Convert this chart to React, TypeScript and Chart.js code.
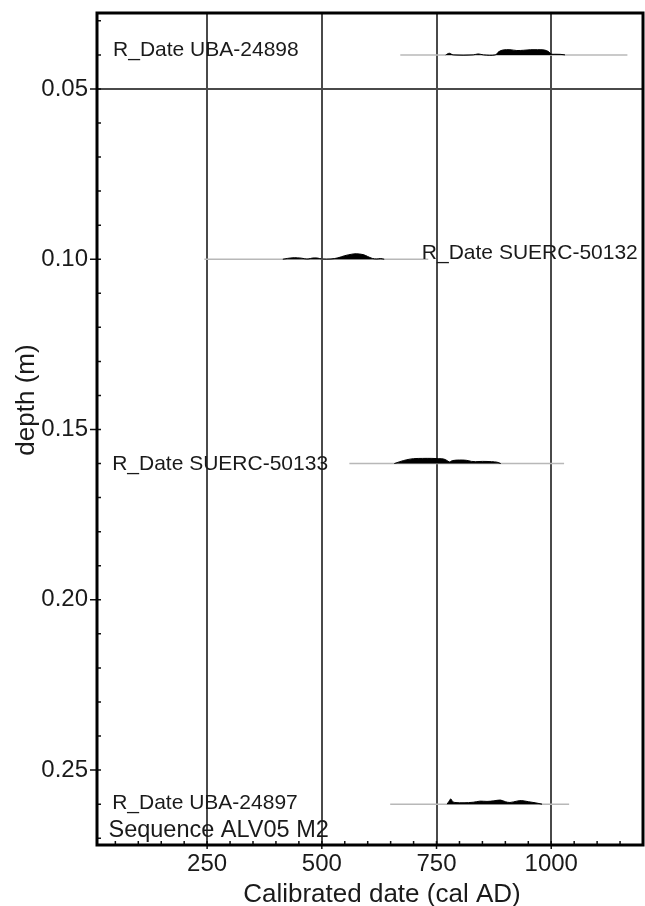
import { useEffect, useRef } from "react";
import { Chart, registerables } from "chart.js";

Chart.register(...registerables);

// ---- axes ----
const DATE_TICKS = [250, 500, 750, 1000];
const DATE_MINOR_STEP = 50;
const DATE_MIN = 10;
const DATE_MAX = 1200;
const DEPTH_TICKS = [0.05, 0.1, 0.15, 0.2, 0.25];
const DEPTH_MINOR_STEP = 0.01;
const DEPTH_MIN = 0.0277;
const DEPTH_MAX = 0.272;
const DEPTH_GRID = [0.05];

// ---- samples ----
const SAMPLE_NAMES = ["R_Date UBA-24898", "R_Date SUERC-50132", "R_Date SUERC-50133", "R_Date UBA-24897"];
const SAMPLE_DEPTHS = [0.04, 0.1, 0.16, 0.26];
const RANGE_FROM = [671, 244, 560, 649];
const RANGE_TO = [1166, 732, 1028, 1039];

// probability distributions (relative density)
const PDF1_DATES = [770, 778, 786, 830, 841, 852, 878, 886, 895, 910, 925, 940, 955, 970, 985, 994, 1000, 1008, 1020, 1030];
const PDF1_DENS = [0, 0.3, 0, 0, 0.18, 0, 0, 0.6, 0.9, 0.95, 0.8, 0.85, 0.95, 0.95, 0.9, 0.6, 0.15, 0.12, 0.1, 0];
const PDF2_DATES = [415, 425, 440, 455, 462, 470, 480, 490, 500, 520, 535, 550, 565, 575, 590, 600, 610, 620, 628, 636];
const PDF2_DENS = [0, 0.15, 0.28, 0.2, 0.1, 0.05, 0.22, 0.22, 0.05, 0.05, 0.25, 0.65, 0.92, 1.0, 0.85, 0.5, 0.15, 0.05, 0.12, 0];
const PDF3_DATES = [658, 670, 685, 700, 720, 740, 755, 765, 772, 778, 785, 800, 815, 826, 835, 850, 870, 882, 890];
const PDF3_DENS = [0, 0.35, 0.7, 0.9, 0.95, 0.95, 0.9, 0.85, 0.6, 0.3, 0.55, 0.65, 0.6, 0.4, 0.35, 0.4, 0.35, 0.25, 0];
const PDF4_DATES = [773, 777, 781, 785, 790, 810, 830, 845, 860, 875, 889, 900, 910, 925, 935, 950, 965, 980];
const PDF4_DENS = [0, 0.5, 0.95, 0.5, 0.3, 0.25, 0.35, 0.55, 0.5, 0.6, 0.75, 0.45, 0.3, 0.55, 0.65, 0.45, 0.25, 0];

const PDF_DATES = [PDF1_DATES, PDF2_DATES, PDF3_DATES, PDF4_DATES];
const PDF_DENS = [PDF1_DENS, PDF2_DENS, PDF3_DENS, PDF4_DENS];
const PDF_PEAK_DEPTH = 0.0016; // height of density 1.0 in depth units

const SEQUENCE_NAME = "Sequence ALV05 M2";
const X_TITLE = "Calibrated date (cal AD)";
const Y_TITLE = "depth (m)";

// ---- label placement (layout only) ----
const LABEL_X = [45, 718, 43, 43];
const LABEL_DY = [1, 0, 6, 5];
const SEQ_LABEL_X = 35;
const X_TITLE_AT = 631;

const FONT = '"Liberation Sans", Arial, Helvetica, sans-serif';
const TEXT = "#1a1a1a";
const GRID = "#4a4a4a";

export default function App() {
  const ref = useRef<HTMLCanvasElement | null>(null);

  useEffect(() => {
    document.body.style.margin = "0";
    document.body.style.overflow = "hidden";
    const canvas = ref.current;
    if (!canvas) return;

    const datasets: any[] = [];
    SAMPLE_DEPTHS.forEach((d, i) => {
      datasets.push({
        data: PDF_DATES[i].map((x, k) => ({ x, y: d - PDF_DENS[i][k] * PDF_PEAK_DEPTH })),
        borderColor: "#000",
        borderWidth: 1,
        backgroundColor: "#000",
        fill: { value: d },
        pointRadius: 0,
        tension: 0.35,
        order: 0,
      });
      datasets.push({
        data: [
          { x: RANGE_FROM[i], y: d },
          { x: RANGE_TO[i], y: d },
        ],
        borderColor: "#b8b8b8",
        borderWidth: 1.5,
        pointRadius: 0,
        fill: false,
        order: 1,
      });
    });

    const overlay = {
      id: "overlay",
      afterDraw(chart: any) {
        const ctx = chart.ctx as CanvasRenderingContext2D;
        const { left, right, top, bottom } = chart.chartArea;
        const xs = chart.scales.x;
        const ys = chart.scales.y;
        ctx.save();
        // minor ticks
        ctx.strokeStyle = "#111";
        ctx.lineWidth = 1.5;
        ctx.beginPath();
        for (let v = 50; v < DATE_MAX; v += DATE_MINOR_STEP) {
          const px = xs.getPixelForValue(v);
          ctx.moveTo(px, bottom);
          ctx.lineTo(px, bottom - 4);
        }
        for (let k = 3; k * DEPTH_MINOR_STEP < DEPTH_MAX; k++) {
          const py = ys.getPixelForValue(k * DEPTH_MINOR_STEP);
          ctx.moveTo(left, py);
          ctx.lineTo(left + 4, py);
        }
        DEPTH_TICKS.forEach((v) => {
          const py = ys.getPixelForValue(v);
          ctx.moveTo(left - 7, py);
          ctx.lineTo(left, py);
        });
        DATE_TICKS.forEach((v) => {
          const px = xs.getPixelForValue(v);
          ctx.moveTo(px, bottom);
          ctx.lineTo(px, bottom + 4);
        });
        ctx.stroke();
        // frame
        ctx.strokeStyle = "#000";
        ctx.lineWidth = 3;
        ctx.strokeRect(left, top, right - left, bottom - top);

        // sample labels
        ctx.fillStyle = TEXT;
        ctx.textAlign = "left";
        ctx.textBaseline = "alphabetic";
        ctx.font = `21px ${FONT}`;
        SAMPLE_NAMES.forEach((name, i) => {
          ctx.fillText(name, xs.getPixelForValue(LABEL_X[i]), ys.getPixelForValue(SAMPLE_DEPTHS[i]) + LABEL_DY[i]);
        });
        ctx.font = `23.5px ${FONT}`;
        ctx.fillText(SEQUENCE_NAME, xs.getPixelForValue(SEQ_LABEL_X), bottom - 8);

        // axis titles
        ctx.font = `26px ${FONT}`;
        ctx.textAlign = "center";
        ctx.fillText(X_TITLE, xs.getPixelForValue(X_TITLE_AT), 902);
        ctx.translate(27, 400);
        ctx.rotate(-Math.PI / 2);
        ctx.textBaseline = "middle";
        ctx.fillText(Y_TITLE, 0, 0);
        ctx.restore();
      },
    };

    const chart = new Chart(canvas, {
      type: "line",
      data: { datasets },
      options: {
        animation: false,
        responsive: true,
        maintainAspectRatio: false,
        layout: { padding: { left: 0, top: 13, right: 2, bottom: 0 } },
        plugins: { legend: { display: false }, tooltip: { enabled: false } },
        scales: {
          x: {
            type: "linear",
            min: DATE_MIN,
            max: DATE_MAX,
            afterBuildTicks: (s: any) => {
              s.ticks = DATE_TICKS.map((value) => ({ value }));
            },
            afterFit: (s: any) => {
              s.height = 61;
              s.paddingLeft = 0;
              s.paddingRight = 0;
            },
            grid: {
              color: (c: any) => (c.tick && DATE_TICKS.includes(c.tick.value) ? GRID : "transparent"),
              lineWidth: 2,
              drawTicks: false,
            },
            border: { display: false },
            ticks: {
              color: TEXT,
              font: { family: FONT, size: 24 },
              padding: 5,
              maxRotation: 0,
              autoSkip: false,
              callback: (v: any) => String(v),
            },
          },
          y: {
            type: "linear",
            reverse: true,
            min: DEPTH_MIN,
            max: DEPTH_MAX,
            afterBuildTicks: (s: any) => {
              s.ticks = DEPTH_TICKS.map((value) => ({ value }));
            },
            afterFit: (s: any) => {
              s.width = 97;
              s.paddingTop = 0;
              s.paddingBottom = 0;
            },
            grid: {
              color: (c: any) => (c.tick && DEPTH_GRID.includes(c.tick.value) ? GRID : "transparent"),
              lineWidth: 2,
              drawTicks: false,
            },
            border: { display: false },
            ticks: {
              color: TEXT,
              font: { family: FONT, size: 24 },
              padding: 9,
              autoSkip: false,
              callback: (v: any) => Number(v).toFixed(2),
            },
          },
        },
      },
      plugins: [overlay],
    });
    return () => chart.destroy();
  }, []);

  return (
    <div style={{ position: "relative", width: 645, height: 906 }}>
      <canvas ref={ref} />
    </div>
  );
}
